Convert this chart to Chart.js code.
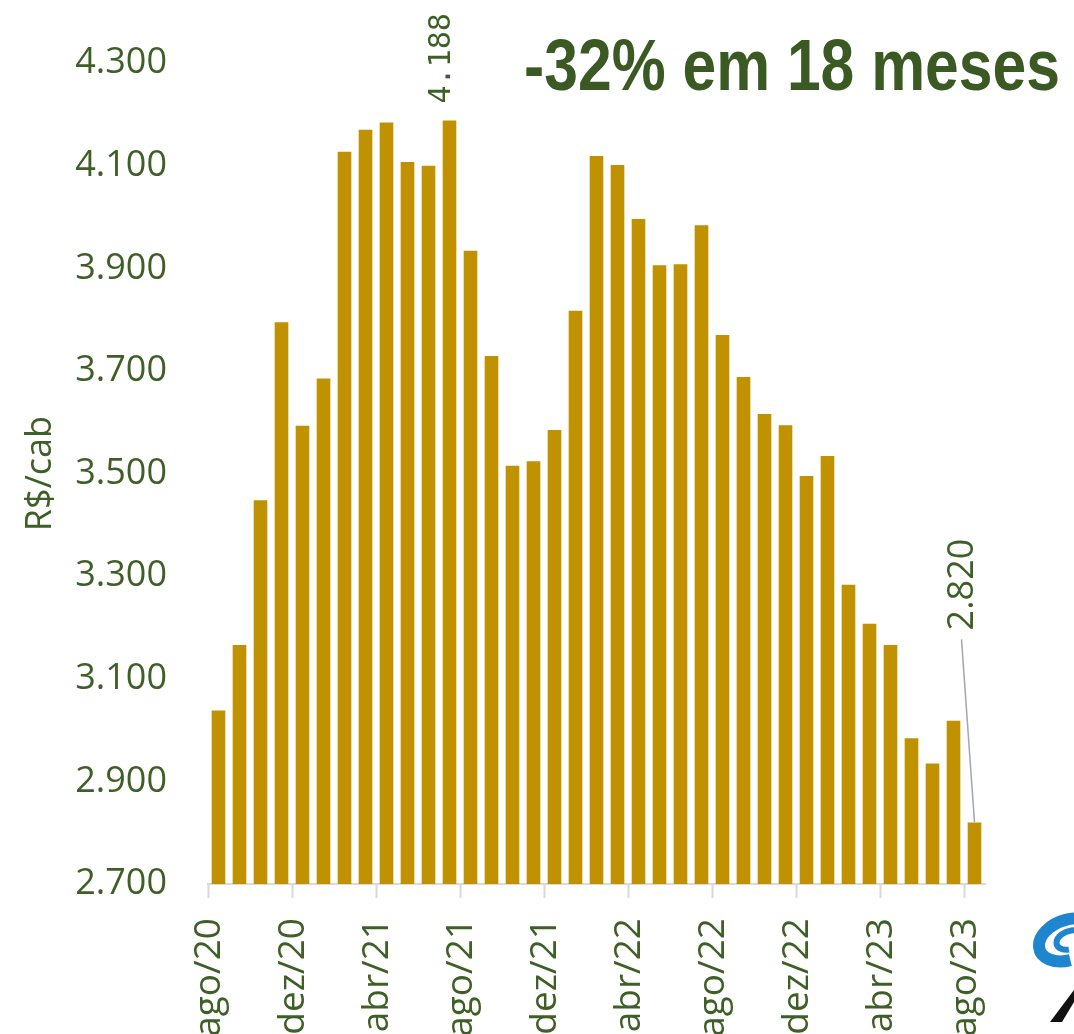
<!DOCTYPE html>
<html><head><meta charset="utf-8">
<script src="https://cdn.jsdelivr.net/npm/chart.js@4/dist/chart.umd.min.js"></script>
<style>html,body{margin:0;padding:0;background:#fff;}#wrap{width:1074px;height:1034px;position:relative;}</style>
</head><body><div id="wrap"><canvas id="c" width="1074" height="1034"></canvas></div>
<script>
const categories = ['ago/20','set/20','out/20','nov/20','dez/20','jan/21','fev/21','mar/21','abr/21','mai/21','jun/21','jul/21','ago/21','set/21','out/21','nov/21','dez/21','jan/22','fev/22','mar/22','abr/22','mai/22','jun/22','jul/22','ago/22','set/22','out/22','nov/22','dez/22','jan/23','fev/23','mar/23','abr/23','mai/23','jun/23','jul/23','ago/23'];
const values = [3038,3166,3448,3795,3593,3685,4127,4170,4184,4107,4100,4188,3934,3729,3515,3524,3585,3817,4119,4101,3996,3906,3908,3984,3770,3688,3616,3594,3495,3534,3283,3207,3166,2984,2935,3018,2820];
const yTicks = [2700,2900,3100,3300,3500,3700,3900,4100,4300];
const titleText = '-32% em 18 meses';
const axisTitle = 'R$/cab';
const labelledBars = [11, 36];

const GREEN = '#3E5F26';
const TITLE_GREEN = '#3A5923';
const BAR = '#C09100';

function fmt(v){
  const s = String(Math.round(v));
  return s.replace(/\B(?=(\d{3})+(?!\d))/g, '.');
}

const annotatePlugin = {
  id: 'annot',
  afterDraw(chart){
    const ctx = chart.ctx;
    const meta = chart.getDatasetMeta(0);
    // Title
    ctx.save();
    ctx.fillStyle = TITLE_GREEN;
    ctx.font = 'bold 72px "Liberation Sans", Arial, sans-serif';
    const w = ctx.measureText(titleText).width;
    ctx.translate(524, 90);
    ctx.scale(536 / w, 1);
    ctx.textBaseline = 'alphabetic';
    ctx.textAlign = 'left';
    ctx.fillText(titleText, 0, 0);
    ctx.restore();

    // peak label
    const b1 = meta.data[labelledBars[0]];
    ctx.save();
    ctx.fillStyle = GREEN;
    ctx.font = '30px "DejaVu Sans Mono", monospace';
    ctx.translate(b1.x - 7, b1.y - 17);
    ctx.rotate(-Math.PI / 2);
    ctx.textAlign = 'left';
    ctx.textBaseline = 'middle';
    ctx.fillText(fmt(values[labelledBars[0]]), 0, 0);
    ctx.restore();

    // last label with leader line
    const b2 = meta.data[labelledBars[1]];
    ctx.save();
    ctx.strokeStyle = '#A6A6A6';
    ctx.lineWidth = 1.5;
    ctx.beginPath();
    ctx.moveTo(b2.x, b2.y);
    ctx.lineTo(b2.x - 13, b2.y - 183);
    ctx.stroke();
    ctx.fillStyle = GREEN;
    ctx.font = '36px "Open Sans", sans-serif';
    ctx.translate(b2.x - 12, b2.y - 192);
    ctx.rotate(-Math.PI / 2);
    ctx.textAlign = 'left';
    ctx.textBaseline = 'middle';
    ctx.fillText(fmt(values[labelledBars[1]]), 0, 0);
    ctx.restore();

    // partial logo at bottom right
    ctx.save();
    ctx.beginPath();
    ctx.rect(1030, 895, 44, 139);
    ctx.clip();
    ctx.strokeStyle = '#1E86CF';
    ctx.lineWidth = 12;
    ctx.beginPath();
    ctx.ellipse(1068, 940, 30, 20, -0.35, Math.PI * 0.55, Math.PI * 1.9);
    ctx.stroke();
    ctx.lineWidth = 6;
    ctx.beginPath();
    ctx.ellipse(1070, 940, 14, 9, -0.35, Math.PI * 0.6, Math.PI * 1.8);
    ctx.stroke();
    ctx.fillStyle = '#111';
    ctx.beginPath();
    ctx.moveTo(1050, 1022);
    ctx.lineTo(1074, 990);
    ctx.lineTo(1074, 1002);
    ctx.lineTo(1062, 1022);
    ctx.closePath();
    ctx.fill();
    ctx.restore();
  }
};

function draw(){
  new Chart(document.getElementById('c'), {
    type: 'bar',
    data: {
      labels: categories,
      datasets: [{
        data: values,
        backgroundColor: BAR,
        borderWidth: 0,
        categoryPercentage: 1.0,
        barPercentage: 0.65
      }]
    },
    options: {
      responsive: false,
      animation: false,
      devicePixelRatio: 1,
      layout: { padding: { top: 63, right: 89, left: 0, bottom: 0 } },
      plugins: { legend: { display: false }, tooltip: { enabled: false } },
      scales: {
        x: {
          type: 'category',
          offset: true,
          grid: {
            display: true,
            offset: true,
            drawOnChartArea: false,
            drawTicks: true,
            tickLength: 14,
            tickWidth: 2,
            color: (c) => (c.index % 4 === 0 ? '#D9D9D9' : 'rgba(0,0,0,0)')
          },
          border: { display: true, color: '#D9D9D9', width: 2 },
          ticks: {
            autoSkip: false,
            minRotation: 90,
            maxRotation: 90,
            padding: 20,
            labelOffset: -9.5,
            color: GREEN,
            font: { family: '"Open Sans", sans-serif', size: 37 },
            callback: (v, i) => (i % 4 === 0 ? categories[i] : '')
          },
          afterFit: (s) => { s.height = 150; }
        },
        y: {
          min: yTicks[0],
          max: yTicks[yTicks.length - 1],
          afterBuildTicks: (s) => { s.ticks = yTicks.map(v => ({ value: v })); },
          ticks: {
            padding: 41,
            color: GREEN,
            font: { family: '"Open Sans", sans-serif', size: 36 },
            callback: (v) => fmt(v)
          },
          grid: { display: false, drawTicks: false },
          border: { display: false },
          title: {
            display: true,
            text: axisTitle,
            color: GREEN,
            font: { family: '"Open Sans", sans-serif', size: 36 },
            padding: { top: 19, bottom: 0 }
          },
          afterFit: (s) => { s.width = 208; }
        }
      }
    },
    plugins: [annotatePlugin]
  });
}

const fontLoads = [
  'bold 72px "Liberation Sans"',
  '30px "DejaVu Sans Mono"',
  '36px "Open Sans"'
].map(f => (document.fonts && document.fonts.load) ? document.fonts.load(f) : Promise.resolve());
Promise.all(fontLoads).then(draw, draw);
</script>
</body></html>
